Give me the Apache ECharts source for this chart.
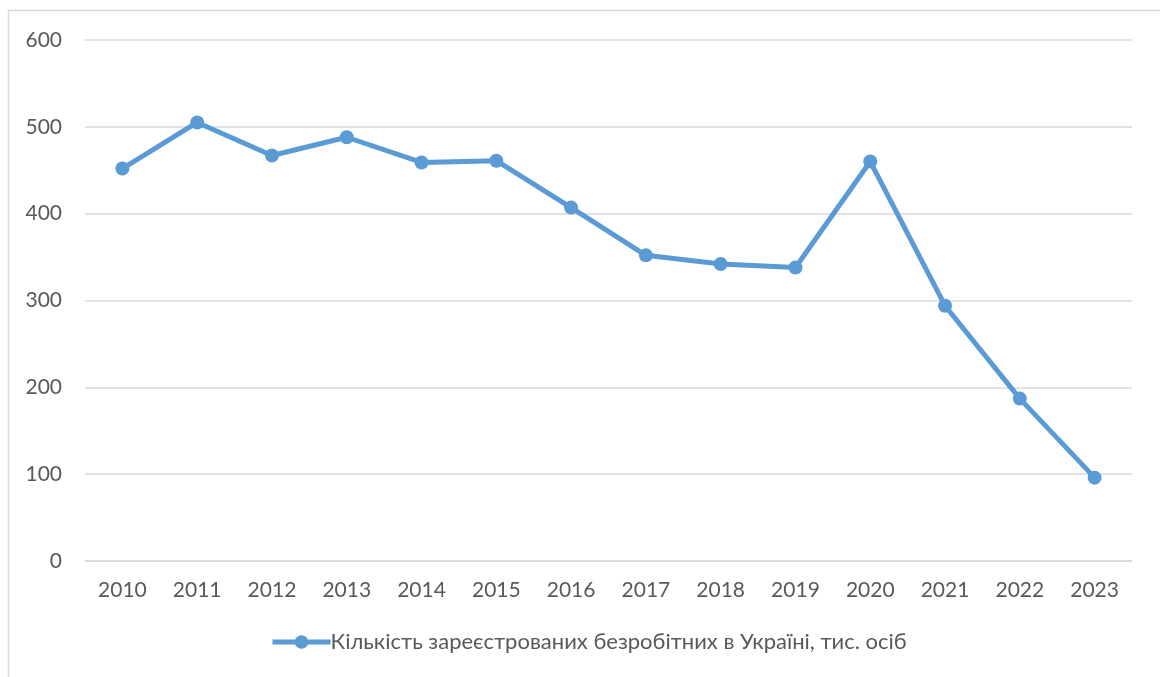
<!DOCTYPE html>
<html><head><meta charset="utf-8">
<script src="https://cdn.jsdelivr.net/npm/echarts@6/dist/echarts.min.js"></script>
<style>html,body{margin:0;padding:0;background:#fff}#c{width:1160px;height:677px}</style>
</head><body><div id="c"></div>
<script>
const years = ['2010','2011','2012','2013','2014','2015','2016','2017','2018','2019','2020','2021','2022','2023'];
const unemployed = [452, 505, 467, 488, 459, 461, 407, 352, 342, 338, 460, 294, 187, 96];
const seriesName = 'Кількість зареєстрованих безробітних в Україні, тис. осіб';
const yTicks = {min: 0, max: 600, interval: 100};

const FONT = 'Lato';
const chart = echarts.init(document.getElementById('c'));
chart.setOption({
  animation: false,
  backgroundColor: '#fff',
  graphic: [{type: 'rect', shape: {x: 8.5, y: 10.5, width: 1300, height: 900}, style: {fill: 'none', stroke: '#d9d9d9', lineWidth: 1.5}, silent: true}],
  grid: {left: 85, right: 28, top: 40, bottom: 116, containLabel: false},
  legend: {
    bottom: 19, left: 265, itemWidth: 58, itemHeight: 17, itemGap: 0,
    lineStyle: {width: 5},
    textStyle: {fontFamily: FONT, fontSize: 22, color: '#595959', padding: [0,0,0,-5]},
    data: [seriesName]
  },
  xAxis: {
    type: 'category', data: years, boundaryGap: true,
    axisLine: {lineStyle: {color: '#d9d9d9', width: 1.5}},
    axisTick: {show: false},
    axisLabel: {fontFamily: FONT, fontSize: 21, color: '#595959', margin: 19}
  },
  yAxis: {
    type: 'value', min: yTicks.min, max: yTicks.max, interval: yTicks.interval,
    axisLine: {show: false}, axisTick: {show: false},
    splitLine: {lineStyle: {color: '#d9d9d9', width: 1.5}},
    axisLabel: {fontFamily: FONT, fontSize: 21, color: '#595959', margin: 23}
  },
  series: [{
    name: seriesName, type: 'line', data: unemployed,
    symbol: 'circle', symbolSize: 14,
    lineStyle: {color: '#5B9BD5', width: 5},
    itemStyle: {color: '#5B9BD5'}
  }]
});
</script></body></html>
